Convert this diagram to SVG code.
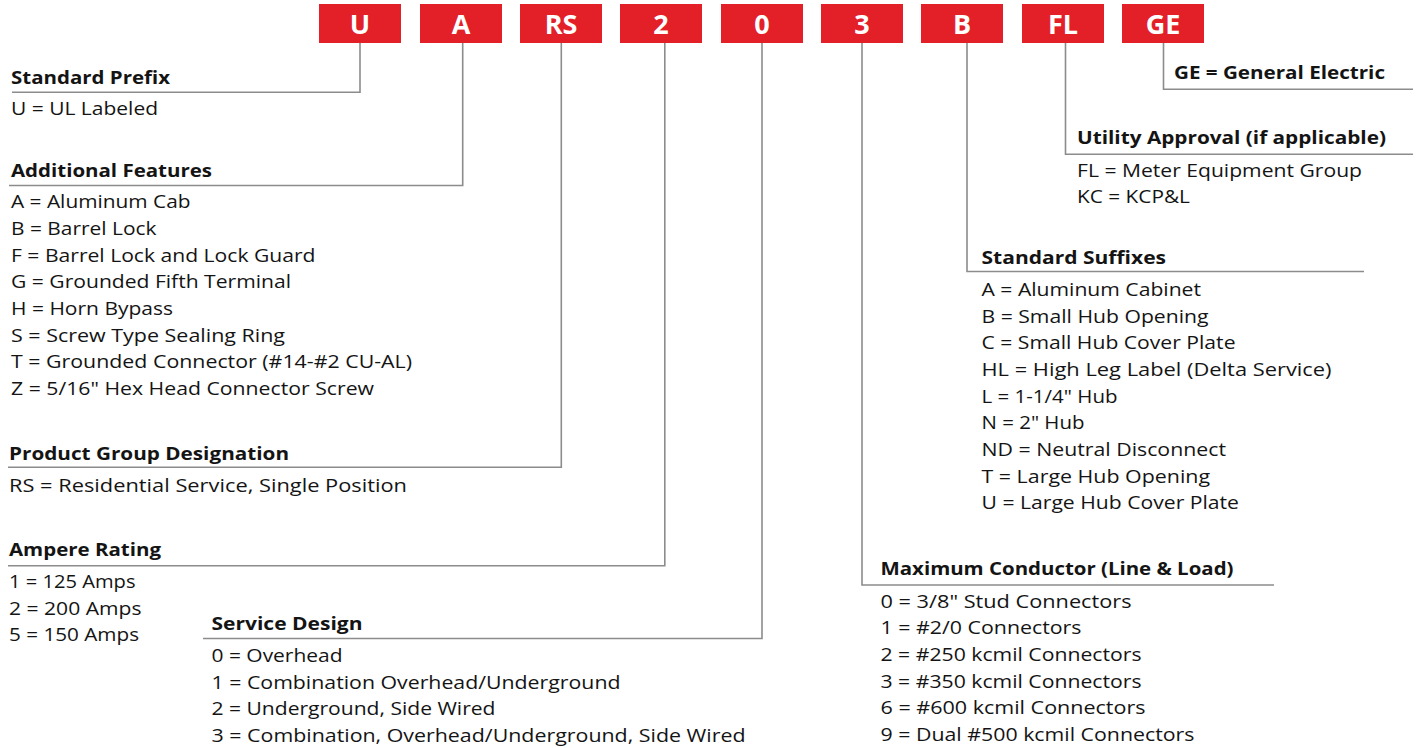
<svg xmlns="http://www.w3.org/2000/svg" width="1418" height="748" viewBox="0 0 1418 748">
<style>
.box{fill:#E31F28}
.code{font-family:"Open Sans","Liberation Sans",sans-serif;font-weight:700;font-size:27px;fill:#fff;text-anchor:middle}
.h{font-family:"Open Sans","Liberation Sans",sans-serif;font-weight:700;font-size:18.5px;fill:#141414}
.t{font-family:"Open Sans","Liberation Sans",sans-serif;font-size:18.5px;fill:#141414}
.ln{fill:none;stroke:#8c8c8c;stroke-width:1.6}
</style>
<rect width="1418" height="748" fill="#fff"/>
<g id="boxes">
<g id="box-U"><rect class="box" x="319" y="4" width="82" height="39"/><text class="code" x="360" y="34">U</text></g>
<g id="box-A"><rect class="box" x="420" y="4" width="82" height="39"/><text class="code" x="461" y="34">A</text></g>
<g id="box-RS"><rect class="box" x="520" y="4" width="82" height="39"/><text class="code" x="561" y="34">RS</text></g>
<g id="box-2"><rect class="box" x="620" y="4" width="82" height="39"/><text class="code" x="661" y="34">2</text></g>
<g id="box-0"><rect class="box" x="721" y="4" width="82" height="39"/><text class="code" x="762" y="34">0</text></g>
<g id="box-3"><rect class="box" x="821" y="4" width="82" height="39"/><text class="code" x="862" y="34">3</text></g>
<g id="box-B"><rect class="box" x="921" y="4" width="82" height="39"/><text class="code" x="962" y="34">B</text></g>
<g id="box-FL"><rect class="box" x="1022" y="4" width="82" height="39"/><text class="code" x="1063" y="34">FL</text></g>
<g id="box-GE"><rect class="box" x="1122" y="4" width="82" height="39"/><text class="code" x="1163" y="34">GE</text></g>
</g>
<g id="connectors">
<polyline class="ln" points="360,43 360,92.3 12,92.3"/>
<polyline class="ln" points="462.7,43 462.7,185.5 9,185.5"/>
<polyline class="ln" points="561.3,43 561.3,467.3 8,467.3"/>
<polyline class="ln" points="664.8,43 664.8,565.7 8,565.7"/>
<polyline class="ln" points="762,43 762,638.5 203,638.5"/>
<polyline class="ln" points="862,43 862,585 1274,585"/>
<polyline class="ln" points="967,43 967,271.5 1364,271.5"/>
<polyline class="ln" points="1065.5,43 1065.5,154.3 1413,154.3"/>
<polyline class="ln" points="1163.5,43 1163.5,89.3 1413,89.3"/>
</g>
<g id="standard-prefix">
<text class="h" x="11" y="84" textLength="159" lengthAdjust="spacingAndGlyphs">Standard Prefix</text>
<text class="t" x="11" y="115" textLength="147" lengthAdjust="spacingAndGlyphs">U = UL Labeled</text>
</g>
<g id="additional-features">
<text class="h" x="11" y="177" textLength="201" lengthAdjust="spacingAndGlyphs">Additional Features</text>
<text class="t" x="11" y="208" textLength="179.5" lengthAdjust="spacingAndGlyphs">A = Aluminum Cab</text>
<text class="t" x="11" y="235" textLength="145.5" lengthAdjust="spacingAndGlyphs">B = Barrel Lock</text>
<text class="t" x="11" y="262" textLength="304.5" lengthAdjust="spacingAndGlyphs">F = Barrel Lock and Lock Guard</text>
<text class="t" x="11" y="288" textLength="280" lengthAdjust="spacingAndGlyphs">G = Grounded Fifth Terminal</text>
<text class="t" x="11" y="315" textLength="162" lengthAdjust="spacingAndGlyphs">H = Horn Bypass</text>
<text class="t" x="11" y="342" textLength="274" lengthAdjust="spacingAndGlyphs">S = Screw Type Sealing Ring</text>
<text class="t" x="11" y="368" textLength="401" lengthAdjust="spacingAndGlyphs">T = Grounded Connector (#14-#2 CU-AL)</text>
<text class="t" x="11" y="395" textLength="363" lengthAdjust="spacingAndGlyphs">Z = 5/16" Hex Head Connector Screw</text>
</g>
<g id="product-group">
<text class="h" x="9" y="460" textLength="280" lengthAdjust="spacingAndGlyphs">Product Group Designation</text>
<text class="t" x="9" y="492" textLength="398" lengthAdjust="spacingAndGlyphs">RS = Residential Service, Single Position</text>
</g>
<g id="ampere-rating">
<text class="h" x="9" y="556" textLength="152" lengthAdjust="spacingAndGlyphs">Ampere Rating</text>
<text class="t" x="9" y="588" textLength="126.5" lengthAdjust="spacingAndGlyphs">1 = 125 Amps</text>
<text class="t" x="9" y="615" textLength="132.5" lengthAdjust="spacingAndGlyphs">2 = 200 Amps</text>
<text class="t" x="9" y="641" textLength="130" lengthAdjust="spacingAndGlyphs">5 = 150 Amps</text>
</g>
<g id="service-design">
<text class="h" x="211.5" y="630" textLength="151" lengthAdjust="spacingAndGlyphs">Service Design</text>
<text class="t" x="211.5" y="662" textLength="131" lengthAdjust="spacingAndGlyphs">0 = Overhead</text>
<text class="t" x="211.5" y="688.5" textLength="409" lengthAdjust="spacingAndGlyphs">1 = Combination Overhead/Underground</text>
<text class="t" x="211.5" y="715" textLength="284" lengthAdjust="spacingAndGlyphs">2 = Underground, Side Wired</text>
<text class="t" x="211.5" y="742" textLength="534" lengthAdjust="spacingAndGlyphs">3 = Combination, Overhead/Underground, Side Wired</text>
</g>
<g id="general-electric">
<text class="h" x="1174" y="79" textLength="211" lengthAdjust="spacingAndGlyphs">GE = General Electric</text>
</g>
<g id="utility-approval">
<text class="h" x="1077" y="144" textLength="309" lengthAdjust="spacingAndGlyphs">Utility Approval (if applicable)</text>
<text class="t" x="1077" y="177" textLength="285" lengthAdjust="spacingAndGlyphs">FL = Meter Equipment Group</text>
<text class="t" x="1077" y="203" textLength="113" lengthAdjust="spacingAndGlyphs">KC = KCP&amp;L</text>
</g>
<g id="standard-suffixes">
<text class="h" x="981.5" y="263.5" textLength="184.5" lengthAdjust="spacingAndGlyphs">Standard Suffixes</text>
<text class="t" x="981.5" y="296" textLength="219.5" lengthAdjust="spacingAndGlyphs">A = Aluminum Cabinet</text>
<text class="t" x="981.5" y="323" textLength="227" lengthAdjust="spacingAndGlyphs">B = Small Hub Opening</text>
<text class="t" x="981.5" y="349" textLength="254" lengthAdjust="spacingAndGlyphs">C = Small Hub Cover Plate</text>
<text class="t" x="981.5" y="376" textLength="350" lengthAdjust="spacingAndGlyphs">HL = High Leg Label (Delta Service)</text>
<text class="t" x="981.5" y="403" textLength="136" lengthAdjust="spacingAndGlyphs">L = 1-1/4" Hub</text>
<text class="t" x="981.5" y="429" textLength="103" lengthAdjust="spacingAndGlyphs">N = 2" Hub</text>
<text class="t" x="981.5" y="456" textLength="244.5" lengthAdjust="spacingAndGlyphs">ND = Neutral Disconnect</text>
<text class="t" x="981.5" y="483" textLength="228.5" lengthAdjust="spacingAndGlyphs">T = Large Hub Opening</text>
<text class="t" x="981.5" y="509" textLength="257.5" lengthAdjust="spacingAndGlyphs">U = Large Hub Cover Plate</text>
</g>
<g id="max-conductor">
<text class="h" x="880.5" y="574.5" textLength="353" lengthAdjust="spacingAndGlyphs">Maximum Conductor (Line &amp; Load)</text>
<text class="t" x="880.5" y="608" textLength="251" lengthAdjust="spacingAndGlyphs">0 = 3/8" Stud Connectors</text>
<text class="t" x="880.5" y="634" textLength="201" lengthAdjust="spacingAndGlyphs">1 = #2/0 Connectors</text>
<text class="t" x="880.5" y="661" textLength="261" lengthAdjust="spacingAndGlyphs">2 = #250 kcmil Connectors</text>
<text class="t" x="880.5" y="688" textLength="261" lengthAdjust="spacingAndGlyphs">3 = #350 kcmil Connectors</text>
<text class="t" x="880.5" y="714" textLength="265" lengthAdjust="spacingAndGlyphs">6 = #600 kcmil Connectors</text>
<text class="t" x="880.5" y="741" textLength="314" lengthAdjust="spacingAndGlyphs">9 = Dual #500 kcmil Connectors</text>
</g>
</svg>
